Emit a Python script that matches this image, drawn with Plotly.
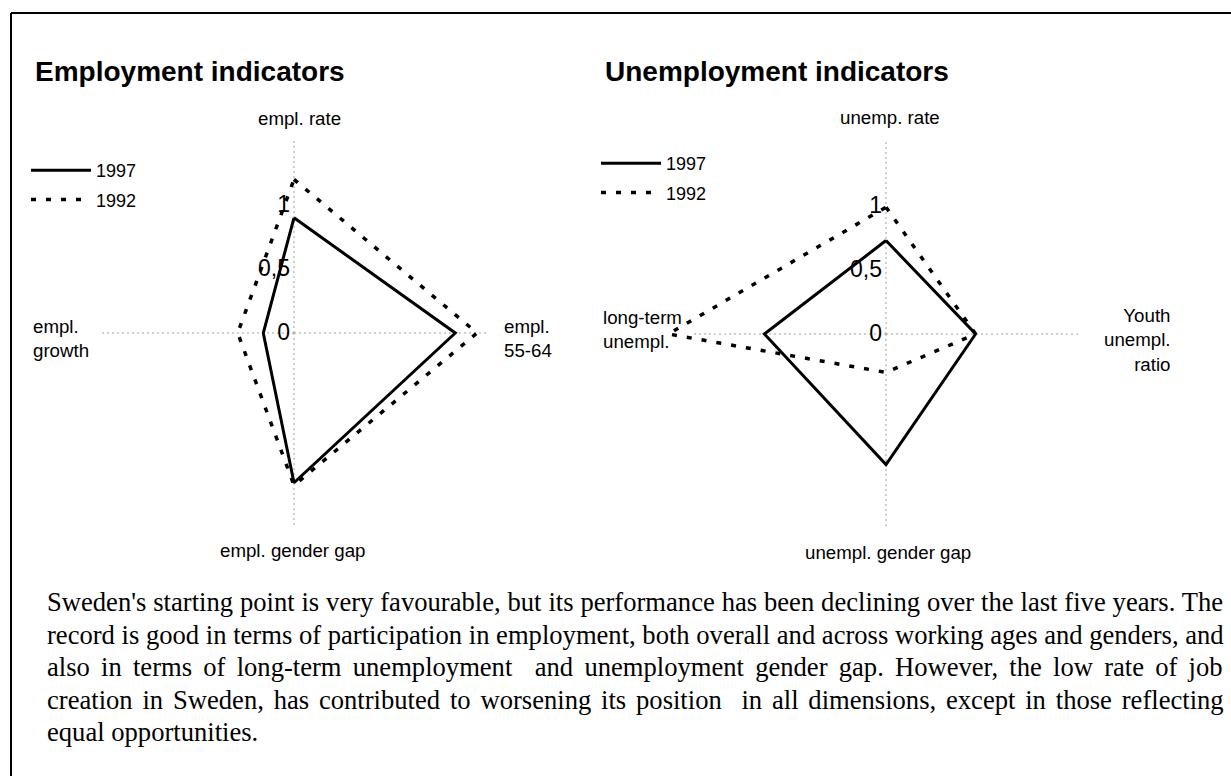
import plotly.graph_objects as go

# ---------------- data ----------------
emp_categories = ["empl. rate", "empl. 55-64", "empl. gender gap", "empl. growth"]
emp_1997 = [0.90, 1.26, 1.17, 0.24]
emp_1992 = [1.20, 1.43, 1.19, 0.44]

unemp_categories = ["unemp. rate", "Youth unempl. ratio", "unempl. gender gap", "long-term unempl."]
unemp_1997 = [0.73, 0.70, 1.02, 0.95]
unemp_1992 = [0.99, 0.70, 0.30, 1.70]

radial_tickvals = [0, 0.5, 1]
radial_ticktext = ["0", "0,5", "1"]
AXIS_MAX = 1.5          # length of the dotted category spokes
RANGE_MAX = 1.75        # radial range (long-term 1992 value lies beyond the spokes)
years = ["1997", "1992"]

body_lines = [
    "Sweden's starting point is very favourable, but its performance has been declining over the last five years. The",
    "record is good in terms of participation in employment, both overall and across working ages and genders, and",
    "also in terms of long-term unemployment  and unemployment gender gap. However, the low rate of job",
    "creation in Sweden, has contributed to worsening its position  in all dimensions, except in those reflecting",
    "equal opportunities.",
]

# ---------------- layout helpers ----------------
W, H = 1231, 776
def px(x):
    return x / W
def py(y):
    return 1 - y / H

SANS = "Liberation Sans, Arial, sans-serif"
SERIF = "Liberation Serif, Times New Roman, serif"
UNIT = 128                  # px per radial unit
R = RANGE_MAX * UNIT        # polar radius in px

# Times New Roman advance widths (em/1000) for justification of the paragraph
TIMES = {" ": 250, ",": 250, ".": 250, "-": 333, "'": 180,
         "a": 444, "b": 500, "c": 444, "d": 500, "e": 444, "f": 333, "g": 500, "h": 500,
         "i": 278, "j": 278, "k": 500, "l": 278, "m": 778, "n": 500, "o": 500, "p": 500,
         "q": 500, "r": 333, "s": 389, "t": 278, "u": 500, "v": 500, "w": 722, "x": 500,
         "y": 500, "z": 444, "S": 556, "T": 611, "H": 722}
BODY_SIZE = 26.6
BODY_LEFT = 47
BODY_RIGHT = 1224

def closed(v):
    return list(v) + [v[0]]

fig = go.Figure()

solid = dict(color="black", width=3)
dashed = dict(color="black", width=3.5, dash="5px,10px")
spoke = dict(color="#a0a0a0", width=1, dash="2px,3px")

def spokes(cats, subplot):
    r, th = [], []
    for c in cats:
        r += [0, AXIS_MAX, None]
        th += [c, c, None]
    return go.Scatterpolar(r=r, theta=th, mode="lines", line=spoke, subplot=subplot,
                           showlegend=False, hoverinfo="skip", connectgaps=False)

fig.add_trace(spokes(emp_categories, "polar"))
fig.add_trace(spokes(unemp_categories, "polar2"))

fig.add_trace(go.Scatterpolar(r=closed(emp_1997), theta=closed(emp_categories), mode="lines",
                              line=solid, name=years[0], subplot="polar", legend="legend",
                              legendgroup="a", hoverinfo="skip"))
fig.add_trace(go.Scatterpolar(r=closed(emp_1992), theta=closed(emp_categories), mode="lines",
                              line=dashed, name=years[1], subplot="polar", legend="legend",
                              legendgroup="b", hoverinfo="skip"))
fig.add_trace(go.Scatterpolar(r=closed(unemp_1997), theta=closed(unemp_categories), mode="lines",
                              line=solid, name=years[0], subplot="polar2", legend="legend2",
                              legendgroup="c", hoverinfo="skip"))
fig.add_trace(go.Scatterpolar(r=closed(unemp_1992), theta=closed(unemp_categories), mode="lines",
                              line=dashed, name=years[1], subplot="polar2", legend="legend2",
                              legendgroup="d", hoverinfo="skip"))

def polar_cfg(cx, cy, cats):
    return dict(
        domain=dict(x=[px(cx - R), px(cx + R)], y=[py(cy + R), py(cy - R)]),
        bgcolor="rgba(0,0,0,0)",
        radialaxis=dict(range=[0, RANGE_MAX], angle=90, side="counterclockwise",
                        tickvals=radial_tickvals, ticktext=radial_ticktext, tickangle=90,
                        tickfont=dict(family=SANS, size=23, color="black"),
                        showline=False, showgrid=False, ticks=""),
        angularaxis=dict(type="category", categoryarray=cats, direction="clockwise", rotation=90,
                         showticklabels=False, showline=False, ticks="", showgrid=False),
    )

ann = []
def text(x, y, t, size=18.7, xanchor="center", align="center", bold=False, family=SANS):
    ann.append(dict(x=px(x), y=py(y), xref="paper", yref="paper", text=f"<b>{t}</b>" if bold else t,
                    showarrow=False, xanchor=xanchor, yanchor="middle", align=align,
                    font=dict(family=family, size=size, color="black")))

text(33, 71, "Employment indicators", size=28, xanchor="left", bold=True)
text(603, 71, "Unemployment indicators", size=28, xanchor="left", bold=True)

text(299, 118, emp_categories[0])
text(502, 338, "empl.<br>55-64", xanchor="left", align="left")
text(292, 550, emp_categories[2])
text(31, 338, "empl.<br>growth", xanchor="left", align="left")

text(890, 117, unemp_categories[0])
text(1172, 340, "Youth<br>unempl.<br>ratio", xanchor="right", align="right")
text(888, 552, unemp_categories[2])
text(601, 329, "long-term<br>unempl.", xanchor="left", align="left")

# justified paragraph (last line left as is)
for i, line in enumerate(body_lines):
    t = line
    if i < len(body_lines) - 1:
        natural = sum(TIMES.get(ch, 500) for ch in line) / 1000 * BODY_SIZE
        gaps = line.count(" ")
        ws = (BODY_RIGHT - BODY_LEFT - natural) / gaps
        t = f'<span style="word-spacing:{ws:.2f}px">{line}</span>'
    text(BODY_LEFT - 2, 602 + 32.5 * i, t, size=BODY_SIZE, xanchor="left", align="left", family=SERIF)

legend_common = dict(bgcolor="rgba(0,0,0,0)", font=dict(family=SANS, size=18, color="black"),
                     xanchor="left", yanchor="top", itemwidth=60, tracegroupgap=3,
                     traceorder="grouped")

fig.update_layout(
    width=W, height=H,
    margin=dict(l=0, r=0, t=0, b=0),
    paper_bgcolor="white",
    plot_bgcolor="white",
    polar=polar_cfg(294, 333, emp_categories),
    polar2=polar_cfg(886, 334, unemp_categories),
    legend=dict(x=px(26), y=py(152), **legend_common),
    legend2=dict(x=px(596), y=py(145), **legend_common),
    annotations=ann,
    shapes=[
        dict(type="line", xref="paper", yref="paper", x0=px(11), y0=py(776), x1=px(11), y1=py(13),
             line=dict(color="black", width=2)),
        dict(type="line", xref="paper", yref="paper", x0=px(11), y0=py(13), x1=px(1231), y1=py(13),
             line=dict(color="black", width=2)),
    ],
)

fig.write_html("out.html", config={"displayModeBar": False},
               post_script="document.body.style.margin='0px';")
